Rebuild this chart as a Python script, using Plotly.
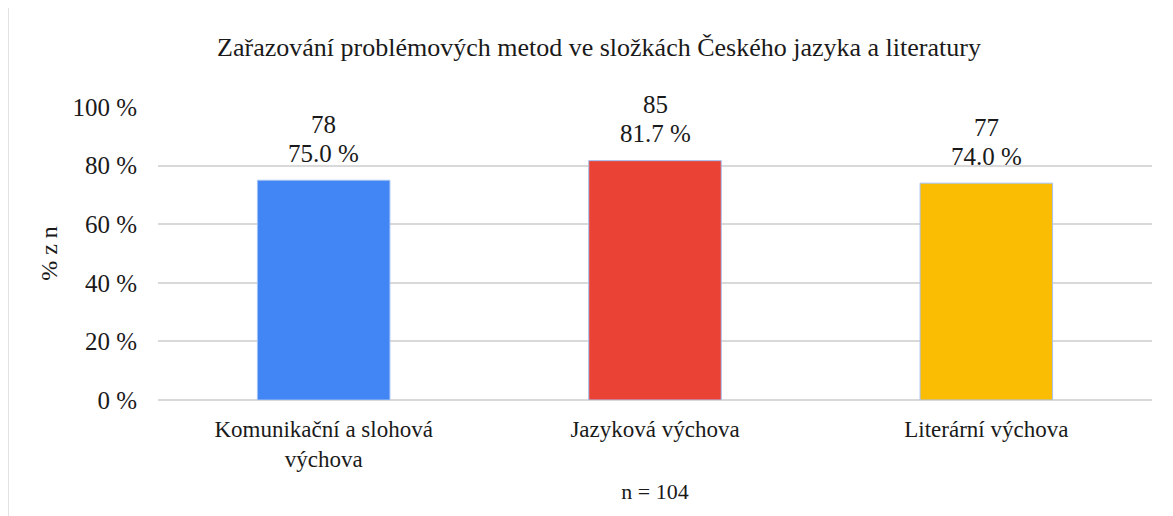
import plotly.graph_objects as go

categories = ["Komunikační a slohová<br>výchova", "Jazyková výchova", "Literární výchova"]
counts = [78, 85, 77]
percents = [75.0, 81.7, 74.0]
colors = ["#4285F4", "#EA4335", "#FBBC04"]
n_total = 104
tick_vals = [0, 20, 40, 60, 80, 100]
tick_text = ["0 %", "20 %", "40 %", "60 %", "80 %", "100 %"]

FONT = "Liberation Serif"
TXT = "#1a1a1a"
W, H = 1173, 516
OFF = 8  # page body margin
ml, mr, mt, mb = 158 - OFF, W - 1152 + OFF, 107 - OFF, H - 400 + OFF

fig = go.Figure()
fig.add_trace(go.Bar(
    x=categories, y=percents,
    marker=dict(color=colors, line=dict(color="#a4c2f4", width=1)),
    width=0.4, hoverinfo="skip",
))

for c, p, k in zip(categories, percents, counts):
    fig.add_annotation(x=c, y=p, yref="y", xref="x", text=f"{p:.1f} %",
                       showarrow=False, yanchor="middle", yshift=27,
                       font=dict(family=FONT, size=25, color=TXT))
    fig.add_annotation(x=c, y=p, yref="y", xref="x", text=f"{k}",
                       showarrow=False, yanchor="middle", yshift=56,
                       font=dict(family=FONT, size=25, color=TXT))

pw = W - ml - mr
ph = H - mt - mb
fig.add_shape(type="rect", xref="paper", yref="paper",
              x0=(0 - ml) / pw, x1=(W + 20 - ml) / pw,
              y0=(H - mt - (H + 20)) / ph, y1=(H - mt - 3) / ph,
              line=dict(color="#d9d9d9", width=1.5), fillcolor="rgba(0,0,0,0)", layer="below")

fig.update_layout(
    width=W, height=H,
    margin=dict(l=ml, r=mr, t=mt, b=mb),
    paper_bgcolor="white", plot_bgcolor="white",
    showlegend=False,
    font=dict(family=FONT, size=23, color=TXT),
    title=dict(text="Zařazování problémových metod ve složkách Českého jazyka a literatury",
               x=(599 - OFF) / W, xanchor="center", y=1 - (47 - OFF) / H, yanchor="middle",
               font=dict(family=FONT, size=26, color=TXT)),
    xaxis=dict(showline=False, ticks="", tickfont=dict(size=23), ticklabelstandoff=13,
               title=dict(text=f"n = {n_total}", font=dict(size=22), standoff=12),
               fixedrange=True),
    yaxis=dict(range=[0, 100], tickvals=tick_vals, ticktext=tick_text,
               showgrid=True, gridcolor="#d9d9d9", gridwidth=1.5,
               zeroline=True, zerolinecolor="#d9d9d9", zerolinewidth=1.5,
               tickfont=dict(size=25), ticks="", ticklen=0, ticklabelstandoff=20,
               title=dict(text="% z n", font=dict(size=24), standoff=8)),
)

fig.write_html("out.html")
